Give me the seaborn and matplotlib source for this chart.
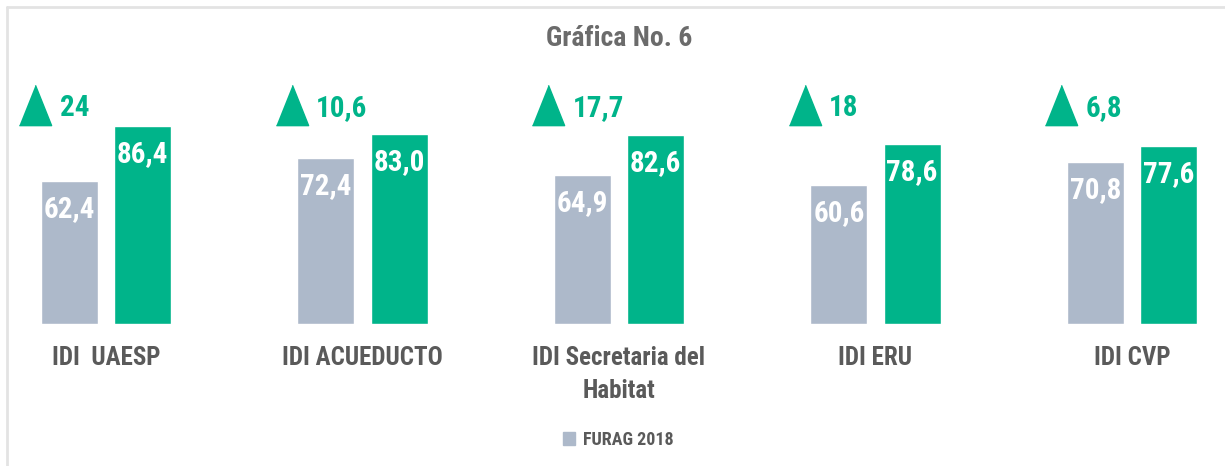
import pandas as pd
import matplotlib
matplotlib.use('Agg')
from matplotlib import pyplot as plt
from matplotlib.patches import Patch
from matplotlib.lines import Line2D
import seaborn as sns

categorias = ['IDI  UAESP', 'IDI ACUEDUCTO', 'IDI Secretaria del\nHabitat', 'IDI ERU', 'IDI CVP']
furag_2018 = [62.4, 72.4, 64.9, 60.6, 70.8]
furag_2019 = [86.4, 83.0, 82.6, 78.6, 77.6]
aumentos = ['24', '10,6', '17,7', '18', '6,8']
series = ['FURAG 2018', 'FURAG 2019']

gris = '#ADB9CA'
verde = '#00B48A'
texto = '#5A5A5A'

df = pd.DataFrame({
  'indicador': categorias * 2,
  'valor': furag_2018 + furag_2019,
  'serie': [series[0]] * len(categorias) + [series[1]] * len(categorias),
})

sns.set_style('white')
plt.rcParams['font.family'] = ['Roboto Condensed', 'Liberation Sans Narrow', 'Roboto', 'DejaVu Sans']
plt.rcParams['font.weight'] = 'bold'

fig = plt.figure(figsize=(12.25, 4.66), dpi=100)
ax = fig.add_axes([0, 142 / 466, 1, 244 / 466])

sns.barplot(data=df, x='indicador', y='valor', hue='serie', palette=[gris, verde],
            width=0.57, gap=0.22, ax=ax, legend=False, saturation=1)

ax.set_xlim(-106 / 256.5, (1225 - 106) / 256.5)
ax.set_ylim(0, 244 / 2.29)
sns.despine(ax=ax, left=True, bottom=True)
ax.set_yticks([])
ax.set_xlabel('')
ax.set_ylabel('')
ax.tick_params(axis='x', length=0, pad=16)
for lbl in ax.get_xticklabels():
  lbl.set_fontsize(18)
  lbl.set_color(texto)
  lbl.set_fontweight('bold')
  lbl.set_linespacing(1.45)

# valores dentro de las barras
for cont in ax.containers:
  for bar in cont:
    h = bar.get_height()
    ax.text(bar.get_x() + bar.get_width() / 2, h - 12.2, f"{h:.1f}".replace('.', ','),
            ha='center', va='center', color='white', fontsize=21, fontweight='bold')

# triangulos con el aumento
tri = [(-0.8, -1), (0.8, -1), (0, 1)]
for i, txt in enumerate(aumentos):
  ax.plot(i - 0.275, 95.6, marker=tri, markersize=29, color=verde, linestyle='none')
  ax.text(i - 0.275 + 0.094, 94.3, txt, ha='left', va='center', color=verde,
          fontsize=21, fontweight='bold')

fig.text(619 / 1225, 1 - 38 / 466, 'Gráfica No. 6', ha='center', va='center',
         fontsize=20, fontweight='bold', color='#6B6B6B')

fig.legend(handles=[Patch(color=gris, label=series[0])], loc='center',
           bbox_to_anchor=(618 / 1225, 1 - 440 / 466), frameon=False,
           handlelength=0.7, handleheight=0.7, handletextpad=0.4,
           prop={'size': 13, 'weight': 'bold'}, labelcolor=texto)

# marco
fig.add_artist(Line2D([7 / 1225, 1], [1 - 7 / 466, 1 - 7 / 466], color='#E3E3E3', lw=2,
                      transform=fig.transFigure))
fig.add_artist(Line2D([7 / 1225, 7 / 1225], [0, 1 - 7 / 466], color='#E3E3E3', lw=2,
                      transform=fig.transFigure))

plt.savefig('out.png', dpi=100)
